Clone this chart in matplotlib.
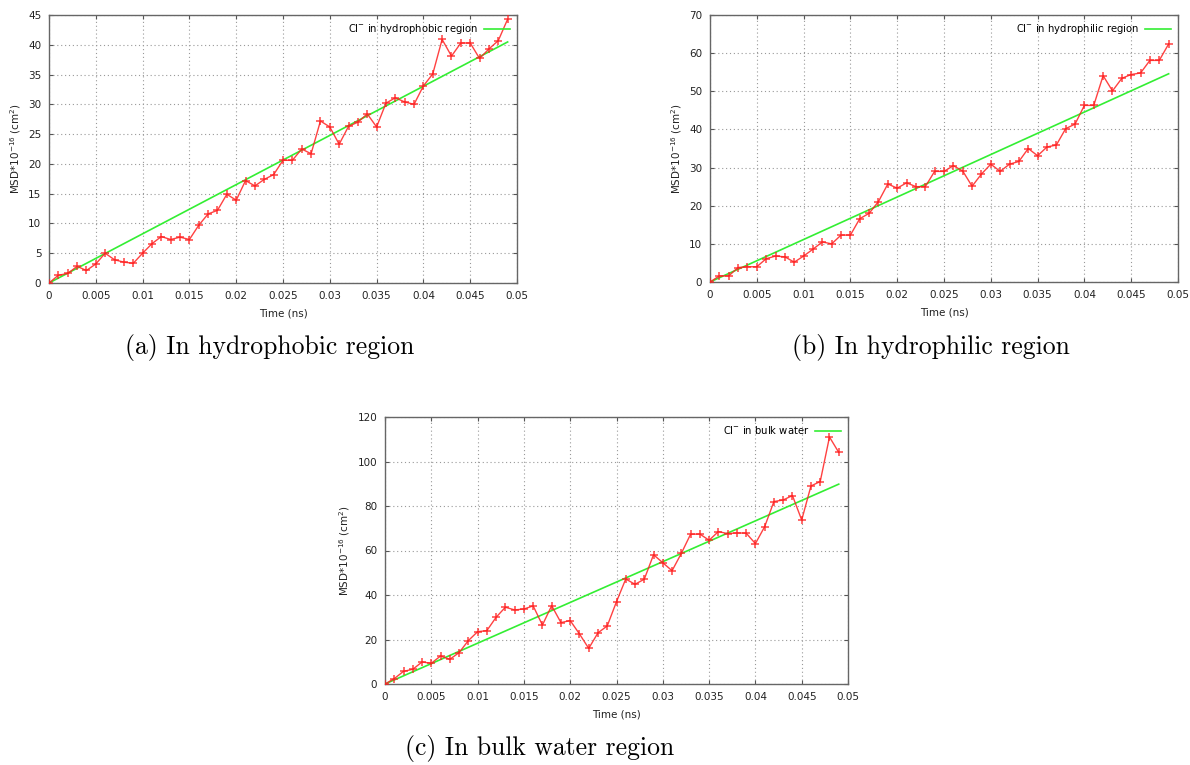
import numpy as np
import matplotlib
matplotlib.use("Agg")
import matplotlib.pyplot as plt

# time axis (ns), one sample every 0.001 ns
time_ns = [round(0.001 * i, 3) for i in range(50)]

msd_hydrophobic = [0, 1.3, 1.6, 2.8, 2.1, 3.2, 5.0, 3.9, 3.5, 3.3,
                   5.0, 6.6, 7.8, 7.3, 7.7, 7.3, 9.7, 11.6, 12.2, 14.9,
                   13.9, 17.2, 16.3, 17.4, 18.2, 20.6, 20.6, 22.5, 21.7, 27.2,
                   26.2, 23.3, 26.3, 27.0, 28.4, 26.2, 30.2, 31.1, 30.4, 30.0,
                   33.1, 35.1, 40.9, 38.1, 40.3, 40.3, 37.7, 39.3, 40.7, 44.3]
msd_hydrophilic = [0, 1.6, 1.6, 3.8, 4.0, 4.0, 6.1, 6.8, 6.6, 5.2,
                   6.8, 8.6, 10.5, 10.0, 12.3, 12.3, 16.6, 18.0, 21.1, 25.7,
                   24.6, 26.0, 25.0, 25.0, 29.0, 29.0, 30.5, 29.1, 25.1, 28.3,
                   30.9, 29.0, 30.9, 31.6, 35.0, 33.1, 35.4, 35.9, 40.2, 41.4,
                   46.3, 46.3, 54.1, 50.1, 53.4, 54.4, 54.8, 58.1, 58.1, 62.4]
msd_bulk = [0, 2.4, 5.7, 6.6, 9.9, 9.3, 12.6, 11.1, 14.1, 19.5,
            23.5, 24.0, 30.0, 34.5, 33.3, 33.7, 35.1, 26.5, 35.2, 27.6,
            28.5, 22.5, 16.0, 23.0, 26.1, 37.0, 47.2, 44.8, 47.1, 58.1,
            54.5, 50.9, 58.7, 67.3, 67.4, 64.6, 68.5, 67.6, 67.9, 67.8,
            63.1, 70.7, 82.0, 82.7, 84.7, 73.7, 89.0, 91.0, 111.0, 104.1]

# slopes of the linear fits (MSD units per ns)
fit_slopes = [826, 1114, 1833]

legend_labels = ["Cl$^{-}$ in hydrophobic region",
                 "Cl$^{-}$ in hydrophilic region",
                 "Cl$^{-}$ in bulk water"]
captions = ["(a) In hydrophobic region",
            "(b) In hydrophilic region",
            "(c) In bulk water region"]
y_max = [45, 70, 120]
y_step = [5, 10, 20]

W, H = 1190, 765
fig = plt.figure(figsize=(W / 100, H / 100), dpi=100)

# axes boxes in pixels: left, top, right, bottom
boxes = [(49, 15, 517, 283), (710, 15, 1178, 282), (385, 417, 848, 684)]
caption_pos = [(270, 348), (931, 348), (540, 749)]
series = [msd_hydrophobic, msd_hydrophilic, msd_bulk]

for i in range(3):
    l, t, r, b = boxes[i]
    ax = fig.add_axes([l / W, 1 - b / H, (r - l) / W, (b - t) / H])
    ax.plot(time_ns, series[i], color="#ff2020", lw=1.0, alpha=0.85,
            marker="+", ms=5.5, mew=1.1, zorder=3)
    t_fit = np.array(time_ns)
    ax.plot(t_fit, fit_slopes[i] * t_fit, color="#33ee33", lw=1.2,
            label=legend_labels[i], zorder=2)
    ax.set_xlim(0, 0.05)
    ax.set_ylim(0, y_max[i])
    ax.set_xticks(np.arange(0, 0.0501, 0.005))
    ax.set_xticklabels(["0", "0.005", "0.01", "0.015", "0.02", "0.025",
                        "0.03", "0.035", "0.04", "0.045", "0.05"])
    ax.set_yticks(np.arange(0, y_max[i] + 0.1, y_step[i]))
    ax.tick_params(labelsize=7.5, direction="in", length=3, color="#555555",
                   top=True, right=True, pad=5.5, labelcolor="#222222")
    ax.grid(True, linestyle=(0, (1, 2.5)), color="#999999", lw=0.8)
    for sp in ax.spines.values():
        sp.set_color("#666666")
        sp.set_linewidth(1.0)
    ax.set_xlabel("Time (ns)", fontsize=7.5, labelpad=6, color="#222222")
    ax.set_ylabel("MSD*10$^{-16}$ (cm$^2$)", fontsize=7.5, labelpad=4,
                  color="#222222")
    ax.legend(loc="upper right", frameon=False, markerfirst=False,
              fontsize=7.2, handlelength=2.6, borderaxespad=0.3,
              handletextpad=0.6)
    cx, cy = caption_pos[i]
    fig.text(cx / W, 1 - cy / H, captions[i], ha="center", va="center",
             fontsize=18.5, family="cmr10")

fig.savefig("out.png", dpi=100)
